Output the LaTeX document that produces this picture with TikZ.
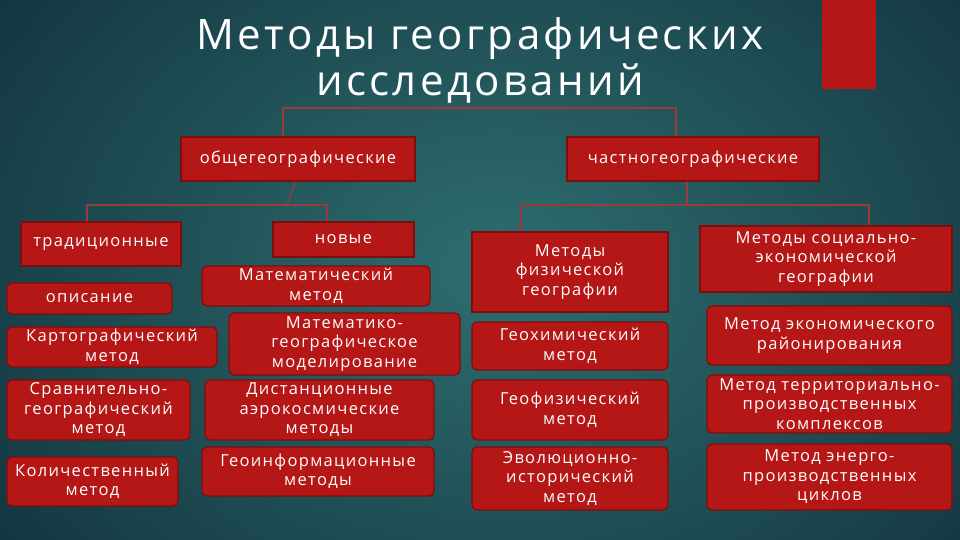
\documentclass[tikz,border=0pt]{standalone}
\usepackage{fontspec}
\setmainfont{Open Sans}
\newfontfamily\wide[LetterSpace=8]{Open Sans}
\definecolor{bgin}{HTML}{2E6E70}
\definecolor{bgout}{HTML}{0E2A36}
\definecolor{boxred}{HTML}{B51616}
\definecolor{boxedge}{HTML}{7E0E0E}
\definecolor{linec}{HTML}{9A3A3A}
\tikzset{
 box/.style={fill=boxred, draw=boxedge, line width=1.2pt, text=white, align=center, inner sep=1pt, font=\wide\fontsize{16.5}{19.5}\selectfont},
 rbox/.style={box, rounded corners=5pt},
 conn/.style={draw=linec, line width=1.3pt},
}
\newcommand{\bx}[7][box]{\node[#1, minimum width=#4-#2, minimum height=#5-#3] (#6) at ({(#2+#4)/2},{(#3+#5)/2}) {#7};}
\begin{document}
\begin{tikzpicture}[x=1pt,y=-1pt]
\useasboundingbox (0,0) rectangle (960,540);
\shade[inner color=bgin, outer color=bgout] (-250,-300) rectangle (1250,840);
\fill[boxred] (822,0) rectangle (876,89);
\node[text=white, align=center, font=\wide\fontsize{42}{46}\selectfont] (title) at (480,60) {Методы географических\\исследований};
\bx{181}{137}{415}{181}{obsh}{общегеографические}
\bx{567}{137}{819}{181}{chast}{частногеографические}
\bx{21}{222}{181}{266}{trad}{традиционные}
\bx{273}{222}{414}{257}{nov}{новые}
\bx[rbox]{202}{266}{430}{306}{mat}{Математический\\метод}
\bx[rbox]{229}{313}{460}{375}{matg}{Математико-\\географическое\\моделирование}
\bx[rbox]{205}{380}{434}{440}{dist}{Дистанционные\\аэрокосмические\\методы}
\bx[rbox]{202}{447}{434}{496}{geoi}{Геоинформационные\\методы}
\bx[rbox]{7}{283}{172}{314}{opis}{описание}
\bx[rbox]{7}{327}{217}{367}{kart}{Картографический\\метод}
\bx[rbox]{7}{380}{190}{440}{srav}{Сравнительно-\\географический\\метод}
\bx[rbox]{7}{457}{178}{506}{kol}{Количественный\\метод}
\bx{472}{232}{668}{312}{fiz}{Методы\\физической\\географии}
\bx[rbox]{472}{322}{668}{370}{gch}{Геохимический\\метод}
\bx[rbox]{472}{380}{668}{440}{gf}{Геофизический\\метод}
\bx[rbox]{472}{447}{668}{510}{evo}{Эволюционно-\\исторический\\метод}
\bx{700}{226}{952}{292}{soc}{Методы социально-\\экономической\\географии}
\bx[rbox]{707}{306}{952}{365}{ekon}{Метод экономического\\районирования}
\bx[rbox]{707}{375}{952}{433}{terr}{Метод территориально-\\производственных\\комплексов}
\bx[rbox]{707}{444}{952}{510}{energ}{Метод энерго-\\производственных\\циклов}
\coordinate (t1) at (283,108);
\coordinate (t2) at (676,108);
\draw[conn] (obsh.north -| t1) -- (t1) -- (t2) -- (chast.north -| t2);
\coordinate (o1) at (295,182);
\coordinate (o2) at (287,205);
\draw[conn] (o1) -- (o2);
\draw[conn] (trad.north -| 87,0) -- (87,205) -- (327,205) -- (nov.north -| 327,0);
\draw[conn] (chast.south -| 687,0) -- (687,205);
\draw[conn] (fiz.north -| 521,0) -- (521,205) -- (869,205) -- (soc.north -| 869,0);
\end{tikzpicture}
\end{document}
